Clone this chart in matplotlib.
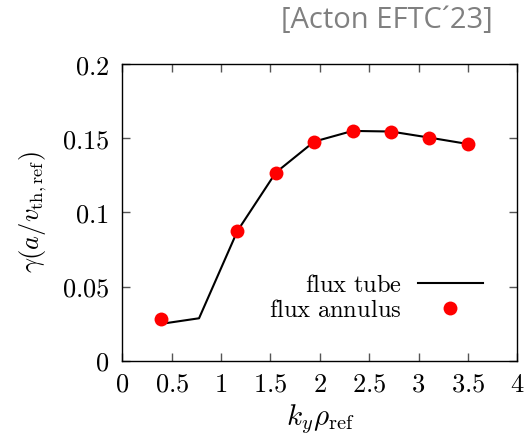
import matplotlib
matplotlib.use("Agg")
import matplotlib.pyplot as plt

plt.rcParams['mathtext.fontset'] = 'cm'
plt.rcParams['font.family'] = 'serif'
plt.rcParams['font.serif'] = ['DejaVu Serif']

# data
ky_tube = [0.389, 0.777, 1.166, 1.554, 1.943, 2.332, 2.720, 3.109, 3.498]
gamma_tube = [0.0248, 0.0286, 0.0875, 0.1268, 0.1477, 0.1549, 0.1545, 0.1504, 0.1461]
ky_annulus = [0.389, 1.166, 1.554, 1.943, 2.332, 2.720, 3.109, 3.498]
gamma_annulus = [0.0278, 0.0875, 0.1268, 0.1477, 0.1549, 0.1540, 0.1504, 0.1461]
xticks = [0, 0.5, 1, 1.5, 2, 2.5, 3, 3.5, 4]
xticklabels = ['0', '0.5', '1', '1.5', '2', '2.5', '3', '3.5', '4']
yticks = [0, 0.05, 0.1, 0.15, 0.2]
yticklabels = ['0', '0.05', '0.1', '0.15', '0.2']

fig = plt.figure(figsize=(5.25, 4.37), dpi=100)
ax = fig.add_axes([0.233, 0.1746, 0.7523, 0.6789])

ax.plot(ky_tube, gamma_tube, color='black', lw=1.5, label=r'$\mathrm{flux\ tube}$', zorder=2)
ax.plot(ky_annulus, gamma_annulus, 'o', color='#ff0000', ms=10, mec='none',
        label=r'$\mathrm{flux\ annulus}$', zorder=3)

ax.set_xlim(0, 4)
ax.set_ylim(0, 0.2)
ax.set_xticks(xticks)
ax.set_xticklabels(['$' + s + '$' for s in xticklabels], fontsize=19)
ax.set_yticks(yticks)
ax.set_yticklabels(['$' + s + '$' for s in yticklabels], fontsize=19)
ax.tick_params(direction='in', length=6, width=1, color='#555555', top=True, right=True)
ax.tick_params(axis='y', pad=9.5)
ax.tick_params(axis='x', pad=8)
for s in ax.spines.values():
    s.set_linewidth(1.0)

ax.set_xlabel(r'$k_y\rho_{\mathrm{ref}}$', fontsize=21, labelpad=4)
ax.set_ylabel(r'$\gamma(a/v_{\mathrm{th,ref}})$', fontsize=19, labelpad=9)

leg = ax.legend(loc='lower right', bbox_to_anchor=(0.913, 0.1305), markerfirst=False,
                frameon=False, fontsize=17.7, handlelength=2.64, handletextpad=0.65,
                labelspacing=0.08, borderpad=0, borderaxespad=0)

fig.text(0.938, 0.952, '[Acton EFTC\u00b423]', ha='right', va='center',
         fontsize=21, color='#808080', family='Open Sans')

fig.savefig('out.png', dpi=100)
